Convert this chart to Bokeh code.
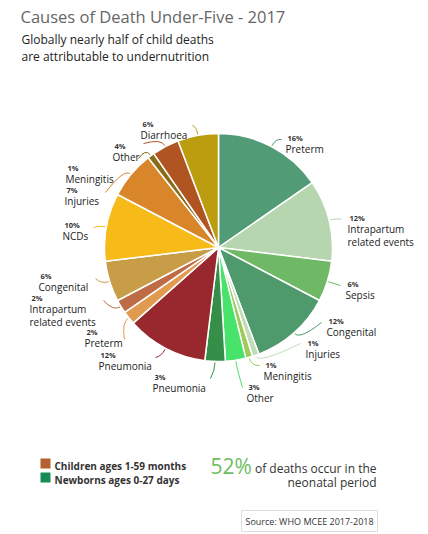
import math
from bokeh.plotting import figure
from bokeh.models import ColumnDataSource, Range1d
from bokeh.core.properties import value
from bokeh.embed import file_html
from bokeh.resources import INLINE

# ---------------- data ----------------
newborn_causes = ["Preterm", "Intrapartum\nrelated events", "Sepsis", "Congenital",
                  "Injuries", "Meningitis", "Other", "Pneumonia"]
newborn_pct = [16, 12, 6, 12, 1, 1, 3, 3]
child_causes = ["Pneumonia", "Preterm", "Intrapartum\nrelated events", "Congenital",
                "NCDs", "Injuries", "Meningitis", "Other", "Diarrhoea"]
child_pct = [12, 2, 2, 6, 10, 7, 1, 4, 6]
legend_labels = ["Children ages 1-59 months", "Newborns ages 0-27 days"]
neonatal_share = "52%"

# ---------------- styles ----------------
newborn_colors = ["#529B77", "#B5D6AE", "#6EB866", "#4F9A6C", "#C0DDB8", "#9CCB5A", "#48E36A", "#358F48"]
child_colors = ["#98282E", "#E09B50", "#BE6C45", "#C79D48", "#F6BA19", "#D9852A", "#8A6B16", "#B05422", "#BC9D10"]
legend_colors = ["#B5602F", "#188A55"]

W, H = 428, 534
def X(x):  # reference page px -> data
    return x
def Y(y):
    return H - y

p = figure(width=W, height=H, output_backend="svg", toolbar_location=None,
           x_range=Range1d(0, W), y_range=Range1d(0, H), min_border=0)
p.axis.visible = False
p.grid.visible = False
p.outline_line_color = None
p.background_fill_color = "white"

FONT = value("Open Sans")

# ---------------- pie ----------------
causes = newborn_causes + child_causes
pct = newborn_pct + child_pct
colors = newborn_colors + child_colors
total = float(sum(pct))
cx, cy, R = X(218), Y(247), 114

starts, ends, mids = [], [], []
cum = 0.0
for v in pct:
    a0 = math.pi / 2 - 2 * math.pi * cum / total
    a1 = math.pi / 2 - 2 * math.pi * (cum + v) / total
    starts.append(a1)
    ends.append(a0)
    mids.append((a0 + a1) / 2)
    cum += v

src = ColumnDataSource(dict(start=starts, end=ends, color=colors))
p.wedge(x=cx, y=cy, radius=R, start_angle="start", end_angle="end",
        fill_color="color", line_color="white", line_width=1.5, source=src)

# ---------------- labels (layout, reference px) ----------------
# (leader end x, leader end y, text left x, pct center y)
layout = [
    (281, 139, 285, 137), (341, 219, 347, 217), (340, 285, 345, 283), (321, 322, 326, 320),
    (300, 343, 305, 342), (259, 365, 263, 364), (242, 387, 246, 386), (210, 378, 152, 376),
    (155, 357, 98, 354), (124, 339, 84, 331), (103, 300, 29, 297), (95, 278, 38, 275),
    (93, 227, 62, 224), (105, 192, 64, 189), (138, 158, 65, 167), (143, 143, 112, 145),
    (192, 125, 140, 123),
]

lx0, ly0, lx1, ly1, lcx, lcy = [], [], [], [], [], []
pt_x, pt_y, pt_t = [], [], []
nm_x, nm_y, nm_t = [], [], []
for i, (ex, ey, tx, py) in enumerate(layout):
    a = mids[i]
    sx, sy = cx + (R + 1) * math.cos(a), cy + (R + 1) * math.sin(a)
    qx, qy = cx + (R + 9) * math.cos(a), cy + (R + 9) * math.sin(a)
    lx0.append(sx); ly0.append(sy); lx1.append(X(ex)); ly1.append(Y(ey))
    lcx.append(qx); lcy.append(qy)
    pt_x.append(X(tx + 2)); pt_y.append(Y(py)); pt_t.append(f"{pct[i]}%")
    for j, line in enumerate(causes[i].split("\n")):
        nm_x.append(X(tx)); nm_y.append(Y(py + 11.5 + 13 * j)); nm_t.append(line)

p.quadratic(x0=lx0, y0=ly0, x1=lx1, y1=ly1, cx=lcx, cy=lcy,
            line_color=colors, line_width=1)
p.text(x=pt_x, y=pt_y, text=pt_t, text_font=FONT, text_font_size="7.5px",
       text_font_style="bold", text_color="#333333", text_baseline="middle", text_align="left")
p.text(x=nm_x, y=nm_y, text=nm_t, text_font=FONT, text_font_size="10px",
       text_color="#222222", text_baseline="middle", text_align="left")

# ---------------- titles ----------------
p.text(x=[X(20)], y=[Y(16)], text=["Causes of Death Under-Five - 2017"], text_font=FONT,
       text_font_size="16.5px", text_color="#666666", text_baseline="middle")
p.text(x=[X(21), X(21)], y=[Y(39), Y(56)],
       text=["Globally nearly half of child deaths", "are attributable to undernutrition"],
       text_font=FONT, text_font_size="12px", text_color="#222222", text_baseline="middle")

# ---------------- legend ----------------
p.quad(left=[X(40), X(40)], right=[X(50), X(50)], top=[Y(458), Y(472)], bottom=[Y(468), Y(482)],
       fill_color=legend_colors, line_color=None)
p.text(x=[X(54), X(54)], y=[Y(465), Y(479)], text=legend_labels, text_font=FONT,
       text_font_size="10px", text_font_style="bold", text_color="#333333", text_baseline="middle")

# ---------------- neonatal note ----------------
p.text(x=[X(210)], y=[Y(465)], text=[neonatal_share], text_font=FONT, text_font_size="21px",
       text_color="#6DBE5F", text_baseline="middle")
p.text(x=[X(376), X(376)], y=[Y(468), Y(482)], text=["of deaths occur in the", "neonatal period"],
       text_font=FONT, text_font_size="12px", text_color="#333333", text_baseline="middle",
       text_align="right")

# ---------------- source ----------------
p.quad(left=[X(241)], right=[X(377)], top=[Y(510)], bottom=[Y(531)], fill_color=None,
       line_color="#DDDDDD", line_width=1)
p.text(x=[X(245)], y=[Y(521)], text=["Source: WHO MCEE 2017-2018"], text_font=FONT,
       text_font_size="9px", text_color="#333333", text_baseline="middle")

open("out.html", "w").write(file_html(p, INLINE))
